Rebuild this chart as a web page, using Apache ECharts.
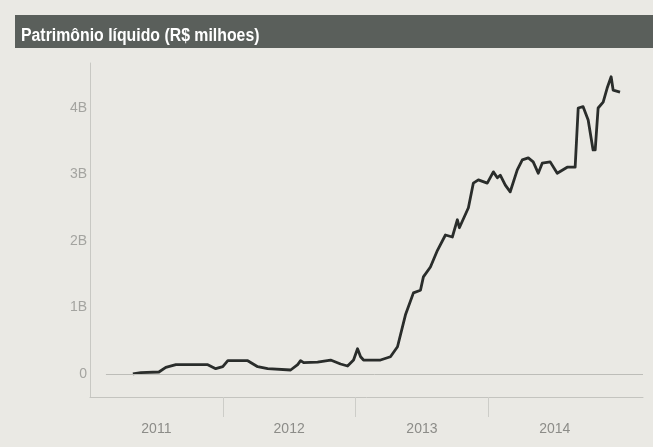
<!DOCTYPE html>
<html>
<head>
<meta charset="utf-8">
<script src="https://cdn.jsdelivr.net/npm/echarts@6/dist/echarts.min.js"></script>
<style>
html,body{margin:0;padding:0;background:#eae9e4;}
#c{width:653px;height:447px;}
</style>
</head>
<body>
<div id="c"></div>
<script>
const titleText = 'Patrimônio líquido (R$ milhoes)';
const yearLabels = ['2011', '2012', '2013', '2014'];
const yearSeparators = [2012, 2013, 2014];
const yTickValues = [0, 1, 2, 3, 4];
// time as fractional years
const xYears = [2011.323, 2011.383, 2011.519, 2011.571, 2011.647, 2011.759, 2011.887, 2011.947, 2012.000, 2012.038,
  2012.188, 2012.263, 2012.338, 2012.511, 2012.564, 2012.586, 2012.609, 2012.714, 2012.812, 2012.887,
  2012.940, 2012.985, 2013.015, 2013.038, 2013.060, 2013.188, 2013.263, 2013.316, 2013.376, 2013.436,
  2013.489, 2013.511, 2013.564, 2013.617, 2013.677, 2013.729, 2013.767, 2013.782, 2013.850, 2013.887,
  2013.925, 2013.992, 2014.038, 2014.068, 2014.090, 2014.128, 2014.165, 2014.218, 2014.256, 2014.301,
  2014.338, 2014.376, 2014.406, 2014.466, 2014.519, 2014.594, 2014.654, 2014.677, 2014.714, 2014.752,
  2014.789, 2014.805, 2014.827, 2014.865, 2014.895, 2014.925, 2014.940, 2014.992];
// values in billions (R$ B)
const values = [0.00, 0.02, 0.03, 0.10, 0.14, 0.14, 0.14, 0.08, 0.11, 0.20,
  0.20, 0.11, 0.08, 0.06, 0.14, 0.20, 0.17, 0.18, 0.21, 0.15,
  0.12, 0.21, 0.38, 0.26, 0.21, 0.21, 0.26, 0.41, 0.89, 1.22,
  1.26, 1.46, 1.61, 1.86, 2.09, 2.06, 2.32, 2.20, 2.50, 2.87,
  2.92, 2.87, 3.04, 2.95, 2.99, 2.84, 2.74, 3.07, 3.22, 3.25,
  3.19, 3.02, 3.17, 3.19, 3.02, 3.11, 3.11, 4.00, 4.02, 3.82,
  3.37, 3.37, 4.00, 4.09, 4.30, 4.47, 4.27, 4.24];

const seriesData = xYears.map((x, i) => [x, values[i]]);
const labelPositions = yearLabels.map(y => Number(y) + 0.5);

const chart = echarts.init(document.getElementById('c'), null, {renderer: 'canvas'});
chart.setOption({
  backgroundColor: '#eae9e4',
  animation: false,
  grid: {left: 90, right: 10, top: 63, bottom: 50, containLabel: false},
  xAxis: {
    type: 'value',
    min: 2011,
    max: 2015.165,
    interval: 1,
    axisLine: {show: true, onZero: false, lineStyle: {color: '#c4c4bf', width: 1}},
    axisTick: {show: true, customValues: yearSeparators, length: 20, lineStyle: {color: '#cdcdc8', width: 1}},
    splitLine: {show: false},
    axisLabel: {
      customValues: labelPositions,
      margin: 25,
      color: '#8c8c88',
      fontSize: 14,
      fontFamily: 'Liberation Sans, sans-serif',
      formatter: v => String(Math.floor(v))
    }
  },
  yAxis: {
    type: 'value',
    min: -0.346,
    max: 4.677,
    axisLine: {show: true, lineStyle: {color: '#c8c8c3', width: 1}},
    axisTick: {show: false},
    splitLine: {show: false},
    axisLabel: {
      customValues: yTickValues,
      margin: 3,
      color: '#a4a4a0',
      fontSize: 14,
      fontFamily: 'Liberation Sans, sans-serif',
      formatter: v => (v === 0 ? '0' : v + 'B')
    }
  },
  graphic: [
    {type: 'rect', x: 15, y: 15, shape: {x: 0, y: 0, width: 638, height: 33}, style: {fill: '#5a5f5b'}, z: 10},
    {type: 'text', x: 21, y: 36, scaleX: 0.88, scaleY: 1,
     style: {text: titleText, x: 0, y: 0, fill: '#ffffff', verticalAlign: 'middle', align: 'left',
             font: 'bold 18px "Liberation Sans", sans-serif'}, z: 11}
  ],
  series: [{
    type: 'line',
    data: seriesData,
    showSymbol: false,
    symbol: 'none',
    lineStyle: {color: '#2a2d2b', width: 2.8, join: 'round'},
    markLine: {
      silent: true,
      symbol: ['none', 'none'],
      label: {show: false},
      lineStyle: {color: '#bdbdb8', width: 1, type: 'solid'},
      data: [[{coord: [2011.12, 0]}, {coord: [2015.165, 0]}]]
    }
  }]
});
</script>
</body>
</html>
